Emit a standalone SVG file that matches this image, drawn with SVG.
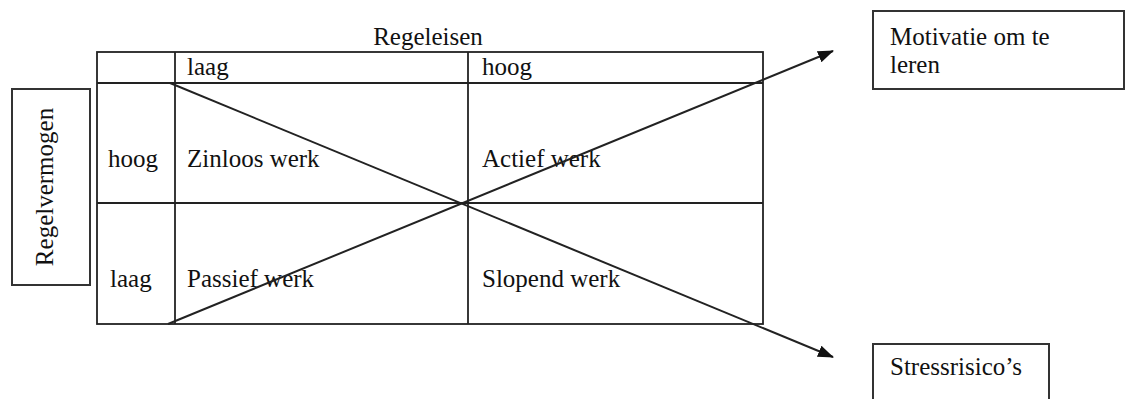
<svg xmlns="http://www.w3.org/2000/svg" width="1125" height="399" viewBox="0 0 1125 399">
<defs>
<style>
.t{font-family:"Liberation Serif","Times New Roman",serif;font-size:25px;fill:#111}
.b{fill:#fff;stroke:#333;stroke-width:2}
.g{stroke:#222;stroke-width:1.8;fill:none}
.c{stroke:#222;stroke-width:2;fill:none}
</style>
<marker id="ah" markerWidth="16" markerHeight="12" refX="15" refY="6" orient="auto" markerUnits="userSpaceOnUse">
<path d="M0,0 L16,6 L0,12 Z" fill="#111"/>
</marker>
</defs>
<rect width="1125" height="399" fill="#fff"/>
<g id="table">
<rect x="97" y="52" width="666" height="272" class="g"/>
<line x1="97" y1="83" x2="763" y2="83" class="g"/>
<line x1="97" y1="203" x2="763" y2="203" class="g"/>
<line x1="175" y1="52" x2="175" y2="324" class="g"/>
<line x1="468" y1="52" x2="468" y2="324" class="g"/>
<text x="428" y="45" text-anchor="middle" class="t">Regeleisen</text>
<text x="187" y="75" class="t">laag</text>
<text x="482" y="75" class="t">hoog</text>
<text x="108" y="167" class="t">hoog</text>
<text x="187" y="167" class="t">Zinloos werk</text>
<text x="482" y="167" class="t">Actief werk</text>
<text x="110" y="287" class="t">laag</text>
<text x="187" y="287" class="t">Passief werk</text>
<text x="482" y="287" class="t">Slopend werk</text>
</g>
<g id="regelvermogen">
<rect x="12" y="89" width="78" height="196" class="b"/>
<text transform="translate(53,187) rotate(-90)" text-anchor="middle" class="t">Regelvermogen</text>
</g>
<g id="motivatie">
<rect x="873" y="11" width="251" height="78" class="b"/>
<text x="890" y="45" class="t">Motivatie om te</text>
<text x="890" y="73" class="t">leren</text>
</g>
<g id="stress">
<rect x="873" y="344" width="176" height="60" class="b"/>
<text x="890" y="375" class="t">Stressrisico’s</text>
</g>
<g id="connectors">
<line x1="168" y1="324" x2="833" y2="51" class="c" marker-end="url(#ah)"/>
<line x1="170" y1="83" x2="833" y2="357" class="c" marker-end="url(#ah)"/>
</g>
</svg>
